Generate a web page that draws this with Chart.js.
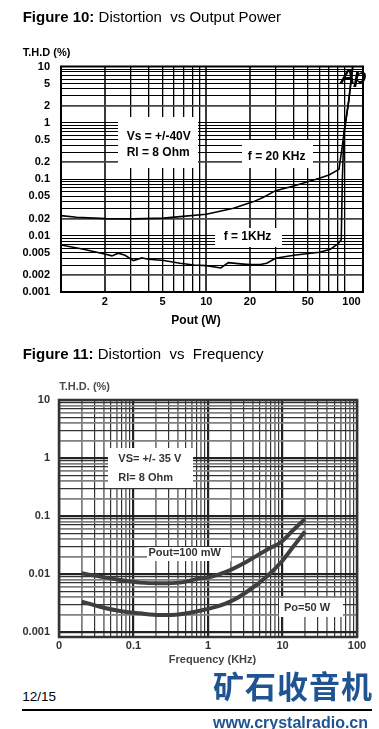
<!DOCTYPE html>
<html><head><meta charset="utf-8">
<script src="https://cdn.jsdelivr.net/npm/chart.js@4/dist/chart.umd.min.js"></script>
<style>
html,body{margin:0;padding:0;background:#fff;}
body{width:379px;height:729px;position:relative;overflow:hidden;font-family:"Liberation Sans",Arial,sans-serif;color:#000;}
.t{position:absolute;white-space:pre;}
.box{position:absolute;background:#fff;}
canvas{position:absolute;left:0;}
</style></head><body>
<canvas id="c1" width="379" height="340" style="top:0"></canvas>
<canvas id="c2" width="379" height="330" style="top:340px"></canvas>

<div class="t" style="left:22.7px;top:8.2px;font-size:15px;line-height:18px;"><b>Figure 10:</b> Distortion  vs Output Power</div>
<div class="t" style="left:22.7px;top:45.2px;font-size:11px;line-height:14px;font-weight:bold;">T.H.D (%)</div>
<div class="t" style="left:146px;top:312.5px;width:100px;text-align:center;font-size:12px;line-height:14px;font-weight:bold;">Pout (W)</div>
<div class="t" style="left:340px;top:64.5px;font-size:21px;line-height:21px;font-weight:bold;font-style:italic;letter-spacing:-1.5px;">Ap</div>

<div class="box" style="left:118px;top:117px;width:80px;height:51px;"></div>
<div class="t" style="left:126.7px;top:129.2px;font-size:12px;line-height:14px;font-weight:bold;">Vs = +/-40V</div>
<div class="t" style="left:126.7px;top:145.3px;font-size:12px;line-height:14px;font-weight:bold;">Rl = 8 Ohm</div>
<div class="box" style="left:242px;top:140px;width:71px;height:28px;"></div>
<div class="t" style="left:226.7px;top:149px;width:100px;text-align:center;font-size:12px;line-height:14px;font-weight:bold;">f = 20 KHz</div>
<div class="box" style="left:215px;top:228px;width:67px;height:19px;"></div>
<div class="t" style="left:197.5px;top:229.3px;width:100px;text-align:center;font-size:12px;line-height:14px;font-weight:bold;">f = 1KHz</div>

<div class="t" style="left:22.7px;top:344.8px;font-size:15px;line-height:18px;"><b>Figure 11:</b> Distortion  vs  Frequency</div>
<div class="t" style="left:59.3px;top:378.7px;font-size:11px;line-height:14px;font-weight:bold;color:#4a4a4a;">T.H.D. (%)</div>
<div class="t" style="left:132.5px;top:651.8px;width:160px;text-align:center;font-size:11px;line-height:14px;font-weight:bold;color:#444;">Frequency (KHz)</div>

<div class="box" style="left:108px;top:448px;width:85px;height:40px;"></div>
<div class="t" style="left:118.3px;top:451.3px;font-size:11px;line-height:14px;font-weight:bold;color:#333;">VS= +/- 35 V</div>
<div class="t" style="left:118.3px;top:469.7px;font-size:11px;line-height:14px;font-weight:bold;color:#333;">Rl= 8 Ohm</div>
<div class="box" style="left:146.7px;top:546.7px;width:84px;height:14.5px;"></div>
<div class="t" style="left:134.7px;top:545.3px;width:100px;text-align:center;font-size:11px;line-height:14px;font-weight:bold;color:#333;">Pout=100 mW</div>
<div class="box" style="left:279.3px;top:598.3px;width:64px;height:18.4px;"></div>
<div class="t" style="left:257px;top:599.7px;width:100px;text-align:center;font-size:11px;line-height:14px;font-weight:bold;color:#333;">Po=50 W</div>

<div class="t" style="left:22.3px;top:687.7px;font-size:13.5px;line-height:17px;">12/15</div>
<div style="position:absolute;left:22px;top:709.3px;width:350px;height:2px;background:#000;"></div>
<div class="t" style="left:213px;top:669px;font-family:'Noto Sans CJK SC',sans-serif;font-size:31px;line-height:31px;font-weight:bold;letter-spacing:1px;color:#1f5391;">矿石收音机</div>
<div class="t" style="left:213px;top:715px;font-size:16px;line-height:16px;font-weight:bold;color:#1f5391;">www.crystalradio.cn</div>

<script>
// ---------- Figure 10: THD vs output power ----------
const pout20kHz = [1, 1.28, 2.03, 3.15, 5.1, 6.6, 10, 15.4, 21.2, 24.8, 30, 40, 50, 60, 70, 82, 95.8, 102];
const thd20kHz  = [0.0226, 0.0212, 0.0200, 0.0198, 0.0204, 0.0217, 0.0239, 0.0306, 0.0401, 0.048, 0.0628, 0.076, 0.0906, 0.104, 0.119, 0.150, 2.5, 10];
const pout1kHz  = [1, 1.43, 2.03, 2.24, 2.48, 2.76, 3.15, 3.6, 4.0, 5.1, 6.6, 8.2, 10, 12.6, 14.2, 17.2, 20, 23.6, 26.1, 30, 40, 60, 71.6, 81, 85, 86.5, 88.6, 95.8, 102];
const thd1kHz   = [0.00684, 0.00574, 0.00468, 0.00437, 0.00488, 0.00449, 0.00361, 0.00403, 0.00382, 0.00361, 0.00324, 0.00302, 0.00294, 0.00267, 0.00332, 0.00316, 0.00306, 0.00307, 0.00324, 0.00398, 0.00449, 0.00508, 0.00574, 0.0072, 0.0085, 0.1, 0.66, 2.5, 10];
const xTickValues1 = [2, 5, 10, 20, 50, 100];
const xTickLabels1 = ['2', '5', '10', '20', '50', '100'];
const yTickValues1 = [10, 5, 2, 1, 0.5, 0.2, 0.1, 0.05, 0.02, 0.01, 0.005, 0.002, 0.001];
const yTickLabels1 = ['10', '5', '2', '1', '0.5', '0.2', '0.1', '0.05', '0.02', '0.01', '0.005', '0.002', '0.001'];

// ---------- Figure 11: THD vs frequency ----------
const freq100mW = [0.0202, 0.0355, 0.066, 0.122, 0.227, 0.42, 0.78, 1.0, 1.78, 3.3, 6.1, 9.7, 13.9, 20];
const thd100mW  = [0.0103, 0.0090, 0.0079, 0.0071, 0.0069, 0.0071, 0.0084, 0.0087, 0.011, 0.0163, 0.026, 0.036, 0.057, 0.088];
const freq50W   = [0.0202, 0.0355, 0.066, 0.122, 0.227, 0.42, 0.78, 1.3, 2.2, 3.6, 6.1, 9.7, 13.9, 20];
const thd50W    = [0.00333, 0.00273, 0.0023, 0.0021, 0.00196, 0.00203, 0.00233, 0.00273, 0.00356, 0.0053, 0.0090, 0.0163, 0.0295, 0.054];
const xTickValues2 = [0.01, 0.1, 1, 10, 100];
const xTickLabels2 = ['0', '0.1', '1', '10', '100'];
const yTickValues2 = [10, 1, 0.1, 0.01, 0.001];
const yTickLabels2 = ['10', '1', '0.1', '0.01', '0.001'];

const FONT = '"Liberation Sans", Arial, sans-serif';
const pts = (xs, ys) => xs.map((x, i) => ({x: x, y: ys[i]}));
function logGrid(e0, e1, extra) {
  const out = [];
  for (let e = e0; e <= e1; e++) for (let m = 1; m <= 9; m++) out.push(+(m * Math.pow(10, e)).toPrecision(3));
  return out.concat(extra || []);
}
function sig(v) { const e = Math.floor(Math.log10(v) + 1e-9); return Math.round(v / Math.pow(10, e)); }
function labelFor(vals, labs) {
  return function (v) { for (let i = 0; i < vals.length; i++) if (Math.abs(v / vals[i] - 1) < 1e-6) return labs[i]; return ''; };
}
const framePlugin = {
  id: 'frame',
  beforeDatasetsDraw(chart, args, o) {
    const {ctx, chartArea: a} = chart;
    ctx.save(); ctx.strokeStyle = o.color; ctx.lineWidth = o.width;
    ctx.strokeRect(a.left, a.top, a.right - a.left, a.bottom - a.top); ctx.restore();
  }
};
Chart.register(framePlugin);

function makeAxis(cfg) {
  return {
    type: 'logarithmic', min: cfg.min, max: cfg.max,
    afterBuildTicks: s => { s.ticks = cfg.grid.map(v => ({value: v})); },
    afterFit: s => { if (cfg.w !== undefined) s.width = cfg.w; if (cfg.h !== undefined) s.height = cfg.h; },
    border: {display: false},
    grid: {drawTicks: false, color: cfg.gridColor, lineWidth: cfg.gridWidth},
    ticks: {autoSkip: false, maxRotation: 0, minRotation: 0, padding: cfg.pad, color: cfg.labelColor,
            font: {family: FONT, size: 11, weight: 'bold'}, callback: labelFor(cfg.vals, cfg.labs)}
  };
}

// Figure 10
new Chart(document.getElementById('c1'), {
  type: 'scatter',
  data: {datasets: [
    {data: pts(pout20kHz, thd20kHz), showLine: true, borderColor: '#000', borderWidth: 1.6, pointRadius: 0, tension: 0},
    {data: pts(pout1kHz, thd1kHz), showLine: true, borderColor: '#000', borderWidth: 1.6, pointRadius: 0, tension: 0}
  ]},
  options: {
    responsive: false, animation: false, events: [],
    layout: {padding: {top: 66.5, right: 16, bottom: 0, left: 0}},
    plugins: {legend: {display: false}, tooltip: {enabled: false}, frame: {color: '#000', width: 2}},
    scales: {
      x: makeAxis({min: 1, max: 120, h: 48, pad: 3, labelColor: '#000', vals: xTickValues1, labs: xTickLabels1,
        grid: logGrid(0, 1, [100]),
        gridColor: c => (c.tick && c.tick.value === 100) ? 'rgba(0,0,0,0)' : (sig(c.tick.value) <= 2 ? '#3a3a3a' : '#000'),
        gridWidth: c => (c.tick && sig(c.tick.value) <= 2) ? 2 : 1.3}),
      y: makeAxis({min: 0.001, max: 10, w: 61, pad: 11, labelColor: '#000', vals: yTickValues1, labs: yTickLabels1,
        grid: logGrid(-3, 0, [10]),
        gridColor: c => (c.tick && sig(c.tick.value) === 2) ? '#444' : '#000',
        gridWidth: c => (c.tick && sig(c.tick.value) === 2) ? 1.8 : 1})
    }
  }
});

// Figure 11
const g2color = c => { const s = sig(c.tick.value); return s === 1 ? '#222' : (s % 2 ? '#333' : '#808080'); };
const g2width = c => { const s = sig(c.tick.value); return s === 1 ? 2.2 : (s % 2 ? 1.2 : 1.8); };
new Chart(document.getElementById('c2'), {
  type: 'scatter',
  data: {datasets: [
    {data: pts(freq100mW, thd100mW), showLine: true, borderColor: '#3e3e3e', borderWidth: 4, pointRadius: 0, cubicInterpolationMode: 'monotone'},
    {data: pts(freq50W, thd50W), showLine: true, borderColor: '#3e3e3e', borderWidth: 4, pointRadius: 0, cubicInterpolationMode: 'monotone'}
  ]},
  options: {
    responsive: false, animation: false, events: [],
    layout: {padding: {top: 60, right: 22, bottom: 0, left: 0}},
    plugins: {legend: {display: false}, tooltip: {enabled: false}, frame: {color: '#333', width: 2.5}},
    scales: {
      x: makeAxis({min: 0.01, max: 100, h: 33, pad: 2, labelColor: '#333', vals: xTickValues2, labs: xTickLabels2,
        grid: logGrid(-2, 1, [100]), gridColor: g2color, gridWidth: g2width}),
      y: makeAxis({min: 0.00082, max: 10, w: 59, pad: 9, labelColor: '#333', vals: yTickValues2, labs: yTickLabels2,
        grid: logGrid(-3, 0, [10]), gridColor: g2color, gridWidth: g2width})
    }
  }
});
</script>
</body></html>
